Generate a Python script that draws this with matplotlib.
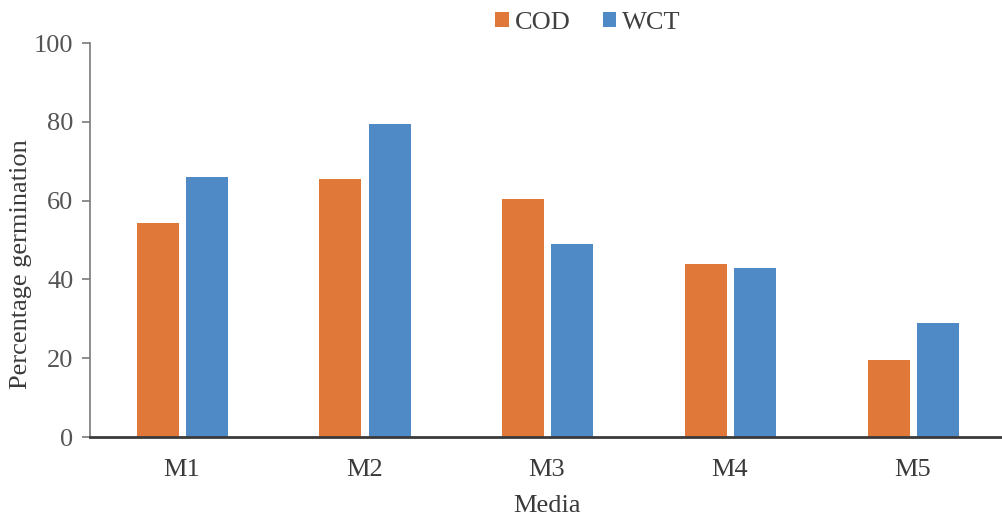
import numpy as np
import matplotlib
matplotlib.use('Agg')
import matplotlib.pyplot as plt

# данные с графика
media = ['M1', 'M2', 'M3', 'M4', 'M5']
cod = [54.4, 65.4, 60.3, 43.8, 19.6]
wct = [65.9, 79.4, 48.9, 43.0, 29.0]
yticks = [0, 20, 40, 60, 80, 100]

plt.rcParams['font.family'] = ['Liberation Serif', 'DejaVu Serif']

fig = plt.figure(figsize=(10.02, 5.17), dpi=100)
ax = fig.add_axes([0.0898, 0.1547, 0.912, 0.7621])

x = np.arange(len(media))
w = 0.23
b1 = ax.bar(x - 0.13, cod, w, color='#E0783A', label='COD')
b2 = ax.bar(x + 0.14, wct, w, color='#4F89C6', label='WCT')

ax.set_xlim(-0.5, 4.5)
ax.set_ylim(0, 100)
ax.set_yticks(yticks)
ax.set_xticks(x)
ax.set_xticklabels(media)

for s in ['top', 'right']:
    ax.spines[s].set_visible(False)
ax.spines['left'].set_color('#7a7a7a')
ax.spines['left'].set_linewidth(1.2)
ax.spines['bottom'].set_color('#3a3a3a')
ax.spines['bottom'].set_linewidth(2)

ax.tick_params(axis='y', direction='out', length=6, width=1.2, color='#7a7a7a',
               labelsize=19, labelcolor='#555555', pad=6)
ax.tick_params(axis='x', length=0, labelsize=19, labelcolor='#3a3a3a', pad=16)

ax.set_xlabel('Media', fontsize=19, color='#3a3a3a', labelpad=10)
ax.set_ylabel('Percentage germination', fontsize=19, color='#3a3a3a')
ax.yaxis.set_label_coords(-0.063, 0.44)

fig.legend(handles=[b1, b2], loc='center', bbox_to_anchor=(0.587, 0.955), ncol=2,
           frameon=False, fontsize=19, handlelength=0.5, handleheight=0.5,
           handletextpad=0.25, columnspacing=1.2, labelcolor='#404040')

plt.savefig('out.png', dpi=100)
